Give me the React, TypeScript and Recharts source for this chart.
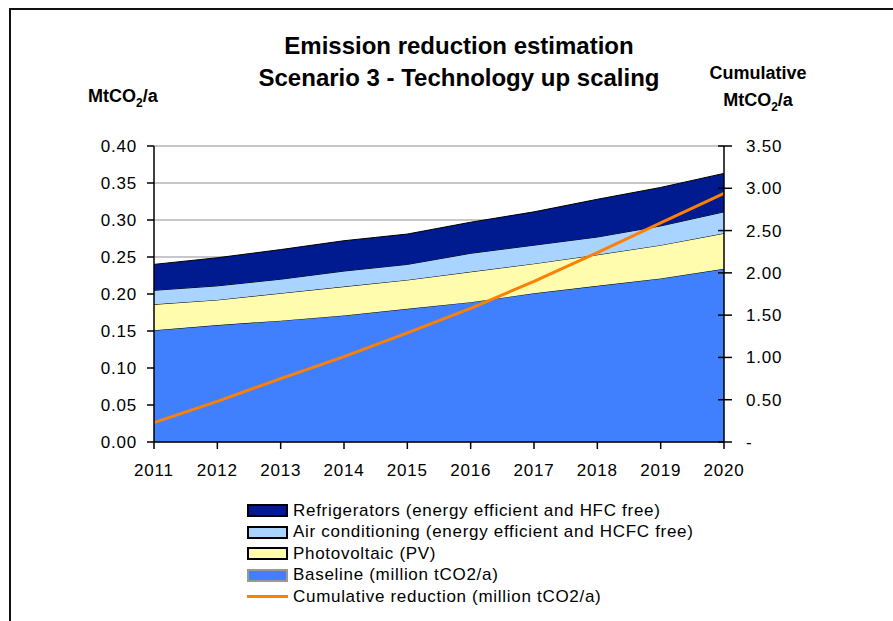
import React from "react";
import { ComposedChart, Area, Line, XAxis, YAxis, CartesianGrid, Legend } from "recharts";

const years = [2011, 2012, 2013, 2014, 2015, 2016, 2017, 2018, 2019, 2020];
const baseline = [0.151, 0.158, 0.164, 0.171, 0.18, 0.189, 0.201, 0.211, 0.221, 0.234];
const photovoltaic = [0.035, 0.034, 0.037, 0.039, 0.039, 0.041, 0.04, 0.042, 0.045, 0.048];
const airConditioning = [0.019, 0.019, 0.019, 0.021, 0.021, 0.025, 0.025, 0.024, 0.026, 0.029];
const refrigerators = [0.035, 0.038, 0.04, 0.041, 0.041, 0.042, 0.045, 0.051, 0.052, 0.052];
const cumulative = [0.23, 0.48, 0.75, 1.01, 1.29, 1.58, 1.9, 2.24, 2.59, 2.94];

const leftTicks = [0, 0.05, 0.1, 0.15, 0.2, 0.25, 0.3, 0.35, 0.4];
const rightTicks = [0, 0.5, 1, 1.5, 2, 2.5, 3, 3.5];

const legendItems = [
  { name: "Refrigerators (energy efficient and HFC free)", color: "#001a8f", border: "#000", kind: "area" },
  { name: "Air conditioning (energy efficient and HCFC free)", color: "#a8d4ff", border: "#000", kind: "area" },
  { name: "Photovoltaic (PV)", color: "#fffcae", border: "#000", kind: "area" },
  { name: "Baseline (million tCO2/a)", color: "#4080ff", border: "#999", kind: "area" },
  { name: "Cumulative reduction (million tCO2/a)", color: "#ff8000", border: "", kind: "line" },
];

const data = years.map((year, i) => ({
  year,
  baseline: baseline[i],
  pv: photovoltaic[i],
  ac: airConditioning[i],
  fridge: refrigerators[i],
  cumulative: cumulative[i],
}));

const font = "'Liberation Sans', Arial, sans-serif";
const tickStyle = { fill: "#000", fontSize: 17, fontFamily: font, letterSpacing: 0.8 };

const RightTick = (props: any) => {
  const { x, y, payload } = props;
  const axisX = x - 8 - 14;
  return (
    <g>
      <line x1={axisX - 6} y1={y} x2={axisX} y2={y} stroke="#000" strokeWidth={1.5} />
      <text x={x} y={y} dy="0.355em" textAnchor="start" fontSize={17} fill="#000" fontFamily={font} letterSpacing={0.8}>
        {payload.value === 0 ? "-" : payload.value.toFixed(2)}
      </text>
    </g>
  );
};

const CustomLegend = () => (
  <div style={{ fontFamily: font, fontSize: 17, color: "#000", letterSpacing: 0.7 }}>
    {legendItems.map((item) => (
      <div key={item.name} style={{ display: "flex", alignItems: "center", height: 21.5 }}>
        {item.kind === "area" ? (
          <div
            style={{
              width: 37,
              height: 9,
              background: item.color,
              border: `2px solid ${item.border}`,
              marginRight: 5,
            }}
          />
        ) : (
          <div style={{ width: 41, height: 3, background: item.color, marginRight: 5 }} />
        )}
        <span style={{ whiteSpace: "nowrap" }}>{item.name}</span>
      </div>
    ))}
  </div>
);

export default function App() {
  return (
    <div style={{ position: "absolute", left: 0, top: 0, width: 893, height: 621, background: "#fff", fontFamily: font, overflow: "hidden" }}>
      <div style={{ position: "absolute", left: 9, top: 8, width: 900, height: 700, borderLeft: "2px solid #111", borderTop: "2px solid #111" }} />
      <div style={{ position: "absolute", left: 0, width: 918, top: 30, textAlign: "center", fontWeight: "bold", fontSize: 24, lineHeight: "32px" }}>
        <div>Emission reduction estimation</div>
        <div>Scenario 3 - Technology up scaling</div>
      </div>
      <div style={{ position: "absolute", left: 88, top: 86, fontWeight: "bold", fontSize: 18 }}>
        MtCO<sub style={{ fontSize: 12 }}>2</sub>/a
      </div>
      <div style={{ position: "absolute", left: 700, width: 116, top: 60, textAlign: "center", fontWeight: "bold", fontSize: 18, lineHeight: "27px" }}>
        <div>Cumulative</div>
        <div>
          MtCO<sub style={{ fontSize: 12 }}>2</sub>/a
        </div>
      </div>
      <ComposedChart
        width={893}
        height={621}
        data={data}
        margin={{ top: 146, right: 89, bottom: 149, left: 0 }}
        style={{ position: "absolute", left: 0, top: 0 }}
      >
        <CartesianGrid yAxisId="left" vertical={false} stroke="#b4b4b4" strokeWidth={1.5} />
        <Area yAxisId="left" type="linear" dataKey="baseline" stackId="1" fill="#4080ff" fillOpacity={1} stroke="#000" strokeWidth={1} isAnimationActive={false} />
        <Area yAxisId="left" type="linear" dataKey="pv" stackId="1" fill="#fffcae" fillOpacity={1} stroke="#000" strokeWidth={1} isAnimationActive={false} />
        <Area yAxisId="left" type="linear" dataKey="ac" stackId="1" fill="#a8d4ff" fillOpacity={1} stroke="#000" strokeWidth={1} isAnimationActive={false} />
        <Area yAxisId="left" type="linear" dataKey="fridge" stackId="1" fill="#001a8f" fillOpacity={1} stroke="#000" strokeWidth={1} isAnimationActive={false} />
        <XAxis
          dataKey="year"
          type="number"
          domain={[2011, 2020]}
          ticks={years}
          height={30}
          tickSize={7}
          tickMargin={15}
          axisLine={{ stroke: "#000", strokeWidth: 1.5 }}
          tickLine={{ stroke: "#000", strokeWidth: 1.5 }}
          tick={tickStyle}
        />
        <YAxis
          yAxisId="left"
          domain={[0, 0.4]}
          ticks={leftTicks}
          width={154}
          tickSize={7}
          tickMargin={10}
          tickFormatter={(v: number) => v.toFixed(2)}
          axisLine={{ stroke: "#000", strokeWidth: 1.5 }}
          tickLine={{ stroke: "#000", strokeWidth: 1.5 }}
          tick={tickStyle}
        />
        <YAxis
          yAxisId="right"
          orientation="right"
          domain={[0, 3.5]}
          ticks={rightTicks}
          width={80}
          tickSize={8}
          tickMargin={14}
          axisLine={{ stroke: "#000", strokeWidth: 1.5 }}
          tickLine={{ stroke: "#000", strokeWidth: 1.5 }}
          tick={<RightTick />}
        />
        <Line yAxisId="right" type="linear" dataKey="cumulative" stroke="#ff8000" strokeWidth={3} dot={false} isAnimationActive={false} />
        <Legend
          layout="vertical"
          align="center"
          verticalAlign="middle"
          content={<CustomLegend />}
          wrapperStyle={{ left: 247, top: 500, width: 500 }}
        />
      </ComposedChart>
    </div>
  );
}
